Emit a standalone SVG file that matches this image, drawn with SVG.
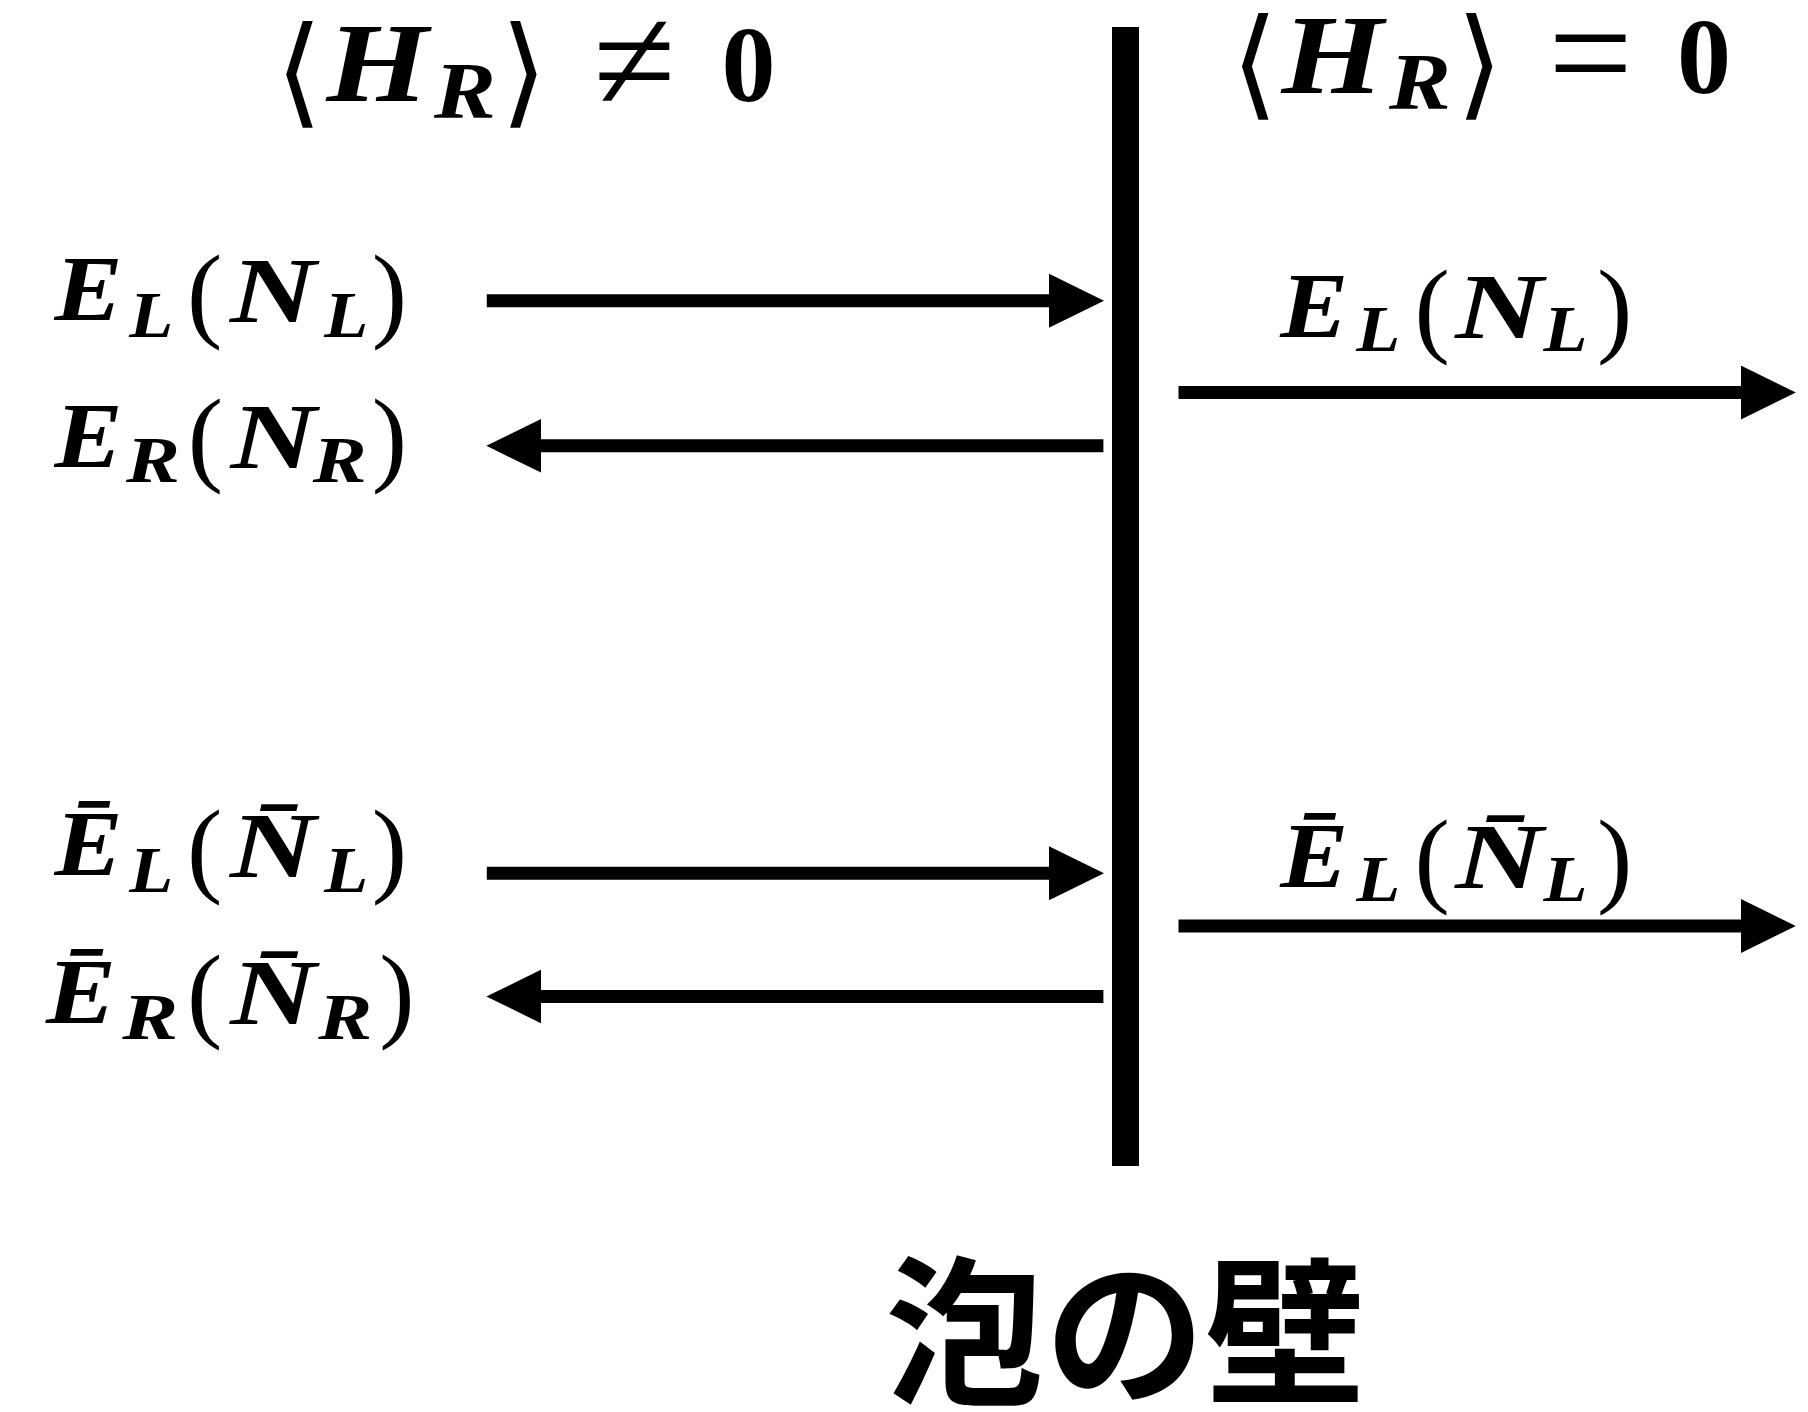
<svg xmlns="http://www.w3.org/2000/svg" width="1808" height="1412" viewBox="0 0 1808 1412">
<style>
  .m { font-family: "Liberation Serif", serif; fill: #000; text-anchor: middle; }
  .bi { font-style: italic; font-weight: bold; font-size: 94px; }
  .bis { font-style: italic; font-weight: bold; font-size: 66px; }
  .bt { font-style: italic; font-weight: bold; font-size: 112px; }
  .bts { font-style: italic; font-weight: bold; font-size: 80px; }
  .par { font-style: normal; font-weight: normal; font-size: 106px; }
  .ang { font-family: "DejaVu Serif", "DejaVu Sans", serif; font-style: normal; font-weight: normal; font-size: 120px; }
  .rel { font-style: normal; font-weight: normal; font-size: 150px; }
  .zero { font-style: normal; font-weight: bold; font-size: 108px; }
  .jp { font-family: "Noto Sans CJK JP", sans-serif; font-weight: 700; font-size: 160px; text-anchor: middle; fill: #000; }
  .arrow { fill: none; stroke: #000; stroke-width: 13; marker-end: url(#head); }
</style>
<defs>
  <marker id="head" markerUnits="userSpaceOnUse" viewBox="0 0 55 54" markerWidth="55" markerHeight="54" refX="1" refY="27" orient="auto">
    <path d="M0,0 L55,27 L0,54 Z" fill="#000"/>
  </marker>
</defs>
<rect x="0" y="0" width="1808" height="1412" fill="#fff"/>

<g id="wall">
  <rect x="1112" y="27" width="27" height="1139" fill="#000"/>
</g>

<g id="title-left">
  <text class="m"><tspan class="ang" x="299" y="112">⟨</tspan><tspan class="bt" x="377.4" y="100.7" textLength="102" lengthAdjust="spacingAndGlyphs">H</tspan><tspan class="bts" x="465" y="118" textLength="62" lengthAdjust="spacingAndGlyphs">R</tspan><tspan class="ang" x="523.8" y="112">⟩</tspan><tspan class="rel" x="634.3" y="111.3">≠</tspan><tspan class="zero" x="748.5" y="101">0</tspan></text>
</g>

<g id="title-right">
  <text class="m"><tspan class="ang" x="1254.7" y="104">⟨</tspan><tspan class="bt" x="1332.6" y="92.7" textLength="102" lengthAdjust="spacingAndGlyphs">H</tspan><tspan class="bts" x="1419.9" y="109.3" textLength="62" lengthAdjust="spacingAndGlyphs">R</tspan><tspan class="ang" x="1479.7" y="104">⟩</tspan><tspan class="rel" x="1590.6" y="103.3">=</tspan><tspan class="zero" x="1703.9" y="92.5">0</tspan></text>
</g>

<g id="label-EL-left">
  <text class="m"><tspan class="bi" x="88.4" y="320" textLength="68" lengthAdjust="spacingAndGlyphs">E</tspan><tspan class="bis" x="151.2" y="337" textLength="44" lengthAdjust="spacingAndGlyphs">L</tspan><tspan class="par" x="204.7" y="328">(</tspan><tspan class="bi" x="273" y="322" textLength="86" lengthAdjust="spacingAndGlyphs">N</tspan><tspan class="bis" x="346.3" y="337" textLength="44" lengthAdjust="spacingAndGlyphs">L</tspan><tspan class="par" x="389.4" y="328">)</tspan></text>
</g>

<g id="label-ER-left">
  <text class="m"><tspan class="bi" x="88.4" y="467.3" textLength="68" lengthAdjust="spacingAndGlyphs">E</tspan><tspan class="bis" x="153.1" y="482" textLength="54" lengthAdjust="spacingAndGlyphs">R</tspan><tspan class="par" x="205.5" y="472">(</tspan><tspan class="bi" x="273.6" y="468" textLength="86" lengthAdjust="spacingAndGlyphs">N</tspan><tspan class="bis" x="339.7" y="482" textLength="54" lengthAdjust="spacingAndGlyphs">R</tspan><tspan class="par" x="389.4" y="472">)</tspan></text>
</g>

<g id="label-EbarL-left">
  <text class="m"><tspan class="bi" x="88.4" y="875" textLength="68" lengthAdjust="spacingAndGlyphs">Ē</tspan><tspan class="bis" x="151.2" y="892" textLength="44" lengthAdjust="spacingAndGlyphs">L</tspan><tspan class="par" x="204.7" y="883">(</tspan><tspan class="bi" x="273" y="877" textLength="86" lengthAdjust="spacingAndGlyphs">N̄</tspan><tspan class="bis" x="346.3" y="892" textLength="44" lengthAdjust="spacingAndGlyphs">L</tspan><tspan class="par" x="389.4" y="883">)</tspan></text>
</g>

<g id="label-EbarR-left">
  <text class="m"><tspan class="bi" x="81" y="1023.3" textLength="70" lengthAdjust="spacingAndGlyphs">Ē</tspan><tspan class="bis" x="150.3" y="1039" textLength="56" lengthAdjust="spacingAndGlyphs">R</tspan><tspan class="par" x="204.7" y="1028">(</tspan><tspan class="bi" x="273.2" y="1024" textLength="86" lengthAdjust="spacingAndGlyphs">N̄</tspan><tspan class="bis" x="345.3" y="1039" textLength="54" lengthAdjust="spacingAndGlyphs">R</tspan><tspan class="par" x="397" y="1028">)</tspan></text>
</g>

<g id="label-EL-right">
  <text class="m"><tspan class="bi" x="1314.3" y="337.3" textLength="68" lengthAdjust="spacingAndGlyphs">E</tspan><tspan class="bis" x="1378.3" y="351" textLength="44" lengthAdjust="spacingAndGlyphs">L</tspan><tspan class="par" x="1432.2" y="343">(</tspan><tspan class="bi" x="1499.3" y="338.3" textLength="88" lengthAdjust="spacingAndGlyphs">N</tspan><tspan class="bis" x="1565.4" y="351" textLength="44" lengthAdjust="spacingAndGlyphs">L</tspan><tspan class="par" x="1614.7" y="343">)</tspan></text>
</g>

<g id="label-EbarL-right">
  <text class="m"><tspan class="bi" x="1314.3" y="887.3" textLength="68" lengthAdjust="spacingAndGlyphs">Ē</tspan><tspan class="bis" x="1378.3" y="901" textLength="44" lengthAdjust="spacingAndGlyphs">L</tspan><tspan class="par" x="1432.2" y="893">(</tspan><tspan class="bi" x="1499.3" y="888.3" textLength="88" lengthAdjust="spacingAndGlyphs">N̄</tspan><tspan class="bis" x="1565.4" y="901" textLength="44" lengthAdjust="spacingAndGlyphs">L</tspan><tspan class="par" x="1614.7" y="893">)</tspan></text>
</g>

<g id="label-wall">
  <text class="jp" x="1125" y="1392">泡の壁</text>
</g>

<g id="connectors">
  <path class="arrow" d="M486.8,300.7 H1050"/>
  <path class="arrow" d="M1103.4,445.8 H540.4"/>
  <path class="arrow" d="M1178.5,392.5 H1741.8"/>
  <path class="arrow" d="M486.8,873.3 H1050"/>
  <path class="arrow" d="M1103.4,996.5 H540.4"/>
  <path class="arrow" d="M1178.5,926 H1741.8"/>
</g>
</svg>
